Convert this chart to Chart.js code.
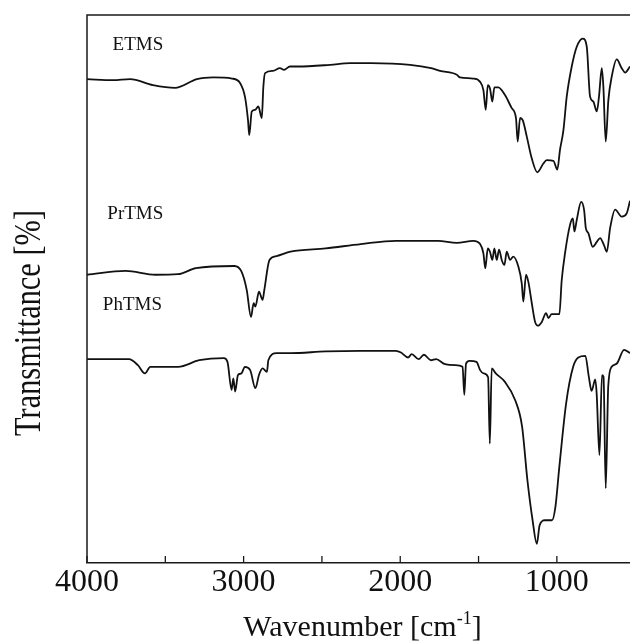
<!DOCTYPE html>
<html><head><meta charset="utf-8">
<script src="https://cdn.jsdelivr.net/npm/chart.js@4.4.1/dist/chart.umd.min.js"></script>
<style>html,body{margin:0;padding:0;background:#fff;}#wrap{width:630px;height:642px;}</style>
</head><body><div id="wrap"><canvas id="c" width="630" height="642"></canvas></div>
<script>
// ---- data (wavenumber in cm-1, transmittance in arbitrary offset %) ----
const etmsWn = [4000,3834,3725,3579,3438,3298,3195,3074,3023,2991,2972,2964,2948,2927,2906,2884,2874,2863,2812,2768,2742,2704,2656,2448,2321,2186,1937,1803,1746,1639,1618,1535,1490,1469,1454,1441,1427,1412,1399,1374,1331,1288,1261,1250,1235,1218,1192,1160,1125,1086,1065,1022,997,980,958,937,905,873,835,809,788,767,745,731,713,703,688,671,650,618,586,564,533];
const etmsT  = [88.3,88.1,88.3,87.2,86.7,88.3,88.6,88.4,87.6,85.0,80.8,78.1,82.4,82.7,83.3,81.2,86.9,89.4,89.8,90.3,90.0,90.6,90.6,90.9,91.2,91.2,90.9,90.3,89.8,89.1,88.6,88.4,87.8,86.3,82.7,87.2,86.6,84.2,86.8,86.8,85.4,83.0,81.2,76.9,81.2,80.8,77.8,73.8,71.3,72.9,73.5,73.4,71.8,75.4,79.0,85.1,90.6,94.2,95.7,94.2,85.1,84.2,82.4,85.1,90.3,86.9,76.9,84.5,88.7,91.9,90.3,89.5,90.6];

const prtmsWn = [4000,3754,3563,3419,3305,3059,3014,2980,2953,2936,2925,2902,2879,2868,2835,2790,2700,2476,2252,2028,1759,1639,1533,1490,1469,1457,1441,1427,1412,1399,1384,1369,1352,1335,1320,1299,1278,1246,1224,1214,1197,1182,1160,1139,1122,1096,1069,1054,1033,984,969,948,916,898,888,873,845,826,815,799,771,745,724,699,681,660,628,586,554,533];
const prtmsT  = [52.6,53.3,52.6,52.7,53.8,54.2,53.2,49.8,44.9,47.4,46.8,49.5,48.0,49.8,55.3,56.0,56.8,57.4,58.2,58.8,58.8,58.4,58.8,58.2,56.5,53.8,57.4,56.8,55.3,57.4,55.3,57.2,55.3,54.4,56.8,55.3,55.9,54.1,51.0,47.7,52.6,51.3,47.4,44.0,43.3,44.0,45.6,44.7,45.4,45.4,51.6,56.5,61.7,62.9,60.5,62.6,65.9,64.4,61.1,60.2,57.7,58.6,59.3,58.0,56.8,61.1,64.5,63.2,63.8,66.1];

const phtmsWn = [4000,3732,3675,3630,3596,3418,3283,3126,3103,3077,3066,3054,3036,3014,2992,2958,2925,2902,2879,2851,2842,2790,2701,2476,2252,2028,1995,1950,1927,1883,1849,1804,1771,1715,1648,1602,1591,1580,1557,1513,1490,1468,1439,1428,1416,1390,1333,1266,1222,1188,1155,1128,1110,1076,1031,1009,986,941,896,863,818,796,778,755,746,728,712,702,688,672,650,617,571,533];
const phtmsT  = [37.2,37.2,36.1,34.6,35.8,35.8,37.0,37.4,36.7,31.6,33.7,31.3,34.3,34.6,35.8,35.2,31.9,34.3,35.5,34.9,37.0,38.3,38.3,38.6,38.7,38.7,38.4,37.5,38.1,37.2,38.0,37.0,37.2,36.3,36.1,35.8,30.7,36.4,36.9,36.7,35.2,34.6,33.9,21.8,35.5,34.6,33.1,29.7,24.9,15.1,7.8,3.5,6.9,7.8,7.8,10.3,17.0,29.1,35.8,37.5,37.8,34.0,31.4,33.5,31.0,19.7,34.3,34.0,13.6,32.2,35.8,36.4,38.9,38.3];

const seriesNames = ['ETMS', 'PrTMS', 'PhTMS'];
const tickValues = [4000, 3500, 3000, 2500, 2000, 1500, 1000];
const labeledTicks = [4000, 3000, 2000, 1000];
const xTitle = 'Wavenumber [cm';
const xTitleSup = '-1';
const yTitle = 'Transmittance [%]';

const toPts = (wn, t) => wn.map((w, i) => ({x: w, y: t[i]}));

const FONT = '"Liberation Serif", "Times New Roman", serif';

const decor = {
  id: 'decor',
  afterDraw(chart, args, opts) {
    const {ctx, chartArea: a, scales: {x, y}} = chart;
    ctx.save();
    // frame (left + top)
    ctx.strokeStyle = '#1a1a1a';
    ctx.lineWidth = 1.5;
    ctx.beginPath();
    ctx.moveTo(a.left, a.bottom);
    ctx.lineTo(a.left, a.top);
    ctx.lineTo(a.right, a.top);
    ctx.stroke();
    // inward tick marks
    ctx.lineWidth = 1.3;
    ctx.beginPath();
    tickValues.forEach(v => {
      const px = x.getPixelForValue(v);
      ctx.moveTo(px, a.bottom);
      ctx.lineTo(px, a.bottom - 7);
    });
    ctx.stroke();
    ctx.fillStyle = '#111';
    // series labels
    ctx.font = '19px ' + FONT;
    ctx.textAlign = 'left';
    ctx.textBaseline = 'alphabetic';
    opts.labels.forEach(l => {
      ctx.fillText(l.text, x.getPixelForValue(l.wn), y.getPixelForValue(l.t));
    });
    // x title with superscript
    const big = '30px ' + FONT, small = '18px ' + FONT;
    ctx.font = big;
    const w1 = ctx.measureText(xTitle).width;
    const w3 = ctx.measureText(']').width;
    ctx.font = small;
    const w2 = ctx.measureText(xTitleSup).width;
    const total = w1 + w2 + w3;
    let sx = (a.left + a.right) / 2 + 4 - total / 2;
    const base = chart.height - 6;
    ctx.font = big;
    ctx.fillText(xTitle, sx, base);
    ctx.font = small;
    ctx.fillText(xTitleSup, sx + w1, base - 12);
    ctx.font = big;
    ctx.fillText(']', sx + w1 + w2, base);
    // y title
    ctx.save();
    ctx.translate(40, a.top + 0.562 * (a.bottom - a.top));
    ctx.rotate(-Math.PI / 2);
    ctx.scale(0.8, 1);
    ctx.font = '38px ' + FONT;
    ctx.textAlign = 'center';
    ctx.fillText(yTitle, 0, 0);
    ctx.restore();
    ctx.restore();
  }
};

const lineStyle = {borderColor: '#111', borderWidth: 1.8, pointRadius: 0, cubicInterpolationMode: 'monotone', fill: false};

new Chart(document.getElementById('c'), {
  type: 'line',
  data: {
    datasets: [
      Object.assign({label: seriesNames[0], data: toPts(etmsWn, etmsT)}, lineStyle),
      Object.assign({label: seriesNames[1], data: toPts(prtmsWn, prtmsT)}, lineStyle),
      Object.assign({label: seriesNames[2], data: toPts(phtmsWn, phtmsT)}, lineStyle)
    ]
  },
  options: {
    responsive: false,
    animation: false,
    devicePixelRatio: 1,
    layout: {padding: {left: 87, top: 15, right: 0, bottom: 0}},
    plugins: {
      legend: {display: false},
      tooltip: {enabled: false},
      decor: {labels: [
        {text: seriesNames[0], wn: 3837, t: 93.6},
        {text: seriesNames[1], wn: 3870, t: 62.8},
        {text: seriesNames[2], wn: 3899, t: 46.2}
      ]}
    },
    scales: {
      x: {
        type: 'linear', reverse: true, min: 533, max: 4000,
        afterBuildTicks: s => { s.ticks = tickValues.map(v => ({value: v})); },
        afterFit: s => { s.height = 79; },
        grid: {display: false, drawTicks: false},
        border: {display: true, color: '#1a1a1a', width: 1.5},
        ticks: {
          padding: 0, maxRotation: 0, autoSkip: false, color: '#111',
          font: {family: FONT, size: 32},
          callback: v => labeledTicks.includes(v) ? String(v) : ''
        }
      },
      y: {display: false, min: 0, max: 100}
    }
  },
  plugins: [decor]
});
</script>
</body></html>
